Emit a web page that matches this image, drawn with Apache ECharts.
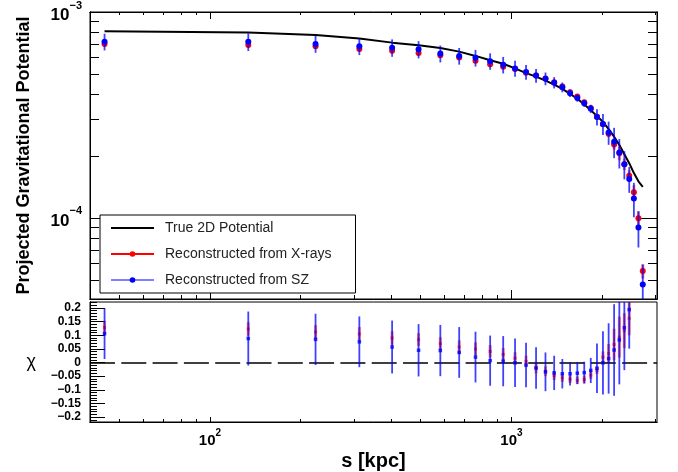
<!DOCTYPE html>
<html><head><meta charset="utf-8">
<script src="https://cdn.jsdelivr.net/npm/echarts@6/dist/echarts.min.js"></script>
<style>html,body{margin:0;padding:0;background:#fff}#c{width:678px;height:472px}</style>
</head><body><div id="c"></div>
<script>
// ---------- data ----------
const radii = [44.7, 134, 224, 313, 402, 492, 581, 671, 760, 850, 939, 1028, 1118, 1207, 1297, 1386, 1475, 1565, 1654, 1744, 1833, 1922, 2012, 2101, 2191, 2280, 2369, 2459, 2548, 2638, 2727];
const truePotential = [8.06e-4, 7.95e-4, 7.73e-4, 7.44e-4, 7.10e-4, 6.89e-4, 6.69e-4, 6.42e-4, 6.12e-4, 5.83e-4, 5.61e-4, 5.32e-4, 5.05e-4, 4.855e-4, 4.64e-4, 4.44e-4, 4.23e-4, 4.00e-4, 3.79e-4, 3.56e-4, 3.33e-4, 3.13e-4, 2.925e-4, 2.70e-4, 2.48e-4, 2.26e-4, 2.04e-4, 1.845e-4, 1.651e-4, 1.506e-4, 1.414e-4];
const xrayPotential = [6.99e-4, 6.92e-4, 6.81e-4, 6.615e-4, 6.49e-4, 6.33e-4, 6.165e-4, 6.01e-4, 5.79e-4, 5.58e-4, 5.42e-4, 5.28e-4, 5.075e-4, 4.91e-4, 4.76e-4, 4.555e-4, 4.345e-4, 4.08e-4, 3.89e-4, 3.65e-4, 3.42e-4, 3.10e-4, 2.853e-4, 2.563e-4, 2.276e-4, 2.06e-4, 1.824e-4, 1.604e-4, 1.334e-4, 9.97e-5, 5.52e-5];
const szPotential = [7.175e-4, 7.175e-4, 6.994e-4, 6.81e-4, 6.71e-4, 6.585e-4, 6.28e-4, 6.12e-4, 5.99e-4, 5.77e-4, 5.54e-4, 5.32e-4, 5.11e-4, 4.91e-4, 4.745e-4, 4.54e-4, 4.31e-4, 4.035e-4, 3.82e-4, 3.60e-4, 3.39e-4, 3.094e-4, 2.862e-4, 2.60e-4, 2.345e-4, 2.077e-4, 1.824e-4, 1.545e-4, 1.244e-4, 8.98e-5, 4.75e-5];
// fractional errors (same in both panels)
const xrayRelErr = [0.025, 0.025, 0.025, 0.025, 0.025, 0.024, 0.024, 0.024, 0.024, 0.023, 0.023, 0.022, 0.021, 0.020, 0.018, 0.016, 0.015, 0.014, 0.014, 0.014, 0.014, 0.013, 0.021, 0.035, 0.058, 0.075, 0.064, 0.062, 0.08, 0.08, 0.08];
const szRelErr = [0.093, 0.099, 0.094, 0.093, 0.097, 0.096, 0.094, 0.093, 0.093, 0.092, 0.092, 0.089, 0.082, 0.076, 0.071, 0.063, 0.054, 0.043, 0.040, 0.040, 0.046, 0.091, 0.116, 0.129, 0.168, 0.163, 0.156, 0.143, 0.19, 0.20, 0.25];
const xrayChi = [0.128, 0.123, 0.112, 0.105, 0.090, 0.084, 0.069, 0.057, 0.050, 0.041, 0.030, 0.016, 0.004, -0.020, -0.032, -0.048, -0.056, -0.061, -0.065, -0.062, -0.046, -0.029, 0.020, 0.033, 0.066, 0.093, 0.117, 0.162, 0.24, 0.36, 0.62];
const szChi = [0.106, 0.088, 0.085, 0.076, 0.057, 0.045, 0.044, 0.037, 0.020, 0.007, 0.005, -0.001, -0.009, -0.020, -0.034, -0.038, -0.041, -0.041, -0.039, -0.037, -0.029, -0.021, -0.001, 0.015, 0.046, 0.083, 0.128, 0.194, 0.27, 0.42, 0.68];
// ticks / labels
const sMajorTicks = [100, 1000];
const sMinorTicks = [50, 60, 70, 80, 90, 200, 300, 400, 500, 600, 700, 800, 900, 2000, 3000];
const potMajorTicks = [1e-4, 1e-3];
const potMinorTicks = [5e-5, 6e-5, 7e-5, 8e-5, 9e-5, 2e-4, 3e-4, 4e-4, 5e-4, 6e-4, 7e-4, 8e-4, 9e-4];
const chiMajorTicks = [-0.2, -0.15, -0.1, -0.05, 0, 0.05, 0.1, 0.15, 0.2];
const chiMinorTicks = [-0.21, -0.19, -0.18, -0.17, -0.16, -0.14, -0.13, -0.12, -0.11, -0.09, -0.08, -0.07, -0.06, -0.04, -0.03, -0.02, -0.01, 0.01, 0.02, 0.03, 0.04, 0.06, 0.07, 0.08, 0.09, 0.11, 0.12, 0.13, 0.14, 0.16, 0.17, 0.18, 0.19, 0.21, 0.22];
const legendNames = ['True 2D Potential', 'Reconstructed from X-rays', 'Reconstructed from SZ'];

// ---------- chart ----------
const FONT = "'Liberation Sans', Arial, Helvetica, sans-serif";
const S_MIN = 40, S_MAX = 3040, POT_MIN = 4.04e-5, POT_MAX = 1e-3, CHI_MIN = -0.218, CHI_MAX = 0.222;

function powLabel(v) {
  const e = Math.round(Math.log10(v));
  return '{b|10}{s|' + (e < 0 ? '\u2212' + (-e) : String(e)) + '}';
}
function tickAxis(base, pos, grid, ticks, len, extra) {
  return Object.assign({
    gridIndex: grid, position: pos, show: true,
    axisLine: { show: true, onZero: false, lineStyle: { color: '#000', width: 1 } },
    axisTick: { show: true, inside: true, length: len, customValues: ticks, lineStyle: { color: '#000', width: 1 } },
    axisLabel: { show: false },
    splitLine: { show: false }, minorTick: { show: false }
  }, base, extra || {});
}
const sBase = { type: 'log', min: S_MIN, max: S_MAX, logBase: 10 };
const potBase = { type: 'log', min: POT_MIN, max: POT_MAX, logBase: 10 };
const chiBase = { type: 'value', min: CHI_MIN, max: CHI_MAX };

const xAxes = [
  tickAxis(sBase, 'bottom', 0, sMajorTicks, 9),
  tickAxis(sBase, 'bottom', 0, sMinorTicks, 4),
  tickAxis(sBase, 'top', 0, sMajorTicks, 7),
  tickAxis(sBase, 'top', 0, sMinorTicks, 3),
  tickAxis(sBase, 'bottom', 1, sMajorTicks, 5, {
    axisLabel: {
      show: true, customValues: sMajorTicks, margin: 6, formatter: powLabel,
      rich: {
        b: { fontFamily: FONT, fontSize: 15, fontWeight: 'bold', color: '#000', lineHeight: 20, verticalAlign: 'bottom' },
        s: { fontFamily: FONT, fontSize: 10, fontWeight: 'bold', color: '#000', lineHeight: 20, verticalAlign: 'top' }
      }
    },
    name: 's [kpc]', nameLocation: 'middle', nameGap: 29,
    nameTextStyle: { fontFamily: FONT, fontSize: 20, fontWeight: 'bold', color: '#000' }
  }),
  tickAxis(sBase, 'bottom', 1, sMinorTicks, 3)
];
const yAxes = [
  tickAxis(potBase, 'left', 0, potMajorTicks, 18, {
    axisLabel: {
      show: true, customValues: potMajorTicks, margin: 8, formatter: powLabel,
      rich: {
        b: { fontFamily: FONT, fontSize: 17, fontWeight: 'bold', color: '#000', lineHeight: 24, verticalAlign: 'bottom' },
        s: { fontFamily: FONT, fontSize: 11, fontWeight: 'bold', color: '#000', lineHeight: 24, verticalAlign: 'top' }
      }
    },
    name: 'Projected Gravitational Potential', nameLocation: 'middle', nameGap: 57,
    nameTextStyle: { fontFamily: FONT, fontSize: 18, fontWeight: 'bold', color: '#000' }
  }),
  tickAxis(potBase, 'left', 0, potMinorTicks, 9),
  tickAxis(potBase, 'right', 0, potMajorTicks, 18),
  tickAxis(potBase, 'right', 0, potMinorTicks, 9),
  tickAxis(chiBase, 'left', 1, chiMajorTicks, 15, {
    axisLabel: {
      show: true, customValues: chiMajorTicks, margin: 9,
      formatter: v => (Math.abs(v) < 1e-9 ? '0' : (v < 0 ? '\u2212' : '') + String(+Math.abs(v).toFixed(2))),
      fontFamily: FONT, fontSize: 12, fontWeight: 'bold', color: '#000'
    },
    name: '\u03c7', nameLocation: 'middle', nameGap: 54, nameRotate: 0,
    nameTextStyle: { fontFamily: FONT, fontSize: 18, color: '#000' }
  }),
  tickAxis(chiBase, 'left', 1, chiMinorTicks, 7)
];

function errData(vals, rel) {
  return radii.map((s, i) => [s, vals[i] * (1 - rel[i]), vals[i] * (1 + rel[i]), vals[i]]);
}
function chiErrData(vals, rel) {
  return radii.map((s, i) => [s, vals[i] - rel[i], vals[i] + rel[i], vals[i]]);
}
function errSeries(data, xi, yi, color, width, z) {
  return {
    type: 'custom', xAxisIndex: xi, yAxisIndex: yi, data: data, z: z, silent: true,
    encode: { x: 0, y: [1, 2, 3] },
    renderItem: function (params, api) {
      const cs = params.coordSys;
      const x = api.value(0);
      const p = api.coord([x, api.value(3)]);
      if (p[1] < cs.y - 1 || p[1] > cs.y + cs.height + 1) return { type: 'group', children: [] };
      const top = cs.y, bot = cs.y + cs.height;
      let y1 = api.coord([x, api.value(2)])[1];
      let y2 = api.coord([x, api.value(1)])[1];
      y1 = Math.max(top, Math.min(bot, y1));
      y2 = Math.max(top, Math.min(bot, y2));
      return { type: 'line', shape: { x1: p[0], y1: y1, x2: p[0], y2: y2 }, style: { stroke: color, lineWidth: width } };
    }
  };
}
const zip = (a, b) => a.map((v, i) => [v, b[i]]);

const option = {
  animation: false,
  backgroundColor: '#fff',
  grid: [
    { left: 90, top: 9, width: 567, height: 290, show: true, borderColor: '#000', borderWidth: 1, backgroundColor: 'transparent' },
    { left: 90, top: 302, width: 567, height: 120, show: true, borderColor: '#000', borderWidth: 1, backgroundColor: 'transparent' }
  ],
  xAxis: xAxes,
  yAxis: yAxes,
  legend: {
    orient: 'vertical', left: 100, top: 215,
    data: [
      { name: legendNames[0], itemStyle: { opacity: 0 }, lineStyle: { opacity: 1, color: '#000', width: 2 } },
      { name: legendNames[1], lineStyle: { opacity: 1, color: '#ff0000', width: 2 }, itemStyle: { color: '#ff0000' } },
      { name: legendNames[2], lineStyle: { opacity: 1, color: '#8080ff', width: 2 }, itemStyle: { color: '#0000ff' } }
    ],
    itemWidth: 43, itemHeight: 7, itemGap: 12,
    padding: [6, 24, 6, 10],
    backgroundColor: '#fff', borderColor: '#000', borderWidth: 1, borderRadius: 0,
    textStyle: { fontFamily: FONT, fontSize: 14, color: '#222', padding: [0, 0, 0, 6] },
    selectedMode: false
  },
  series: [
    { type: 'line', name: legendNames[0], xAxisIndex: 0, yAxisIndex: 0, data: zip(radii, truePotential),
      symbol: 'none', lineStyle: { color: '#000', width: 2 }, itemStyle: { color: '#000' }, z: 2, silent: true },
    errSeries(errData(xrayPotential, xrayRelErr), 0, 0, 'rgba(255,0,0,0.5)', 3, 3),
    { type: 'line', name: legendNames[1], xAxisIndex: 0, yAxisIndex: 0, data: zip(radii, xrayPotential),
      symbol: 'circle', symbolSize: 6, showSymbol: true, showAllSymbol: true,
      itemStyle: { color: '#ff0000' }, lineStyle: { color: '#ff0000', width: 2, opacity: 0 }, z: 4, silent: true },
    errSeries(errData(szPotential, szRelErr), 0, 0, 'rgba(0,0,255,0.75)', 1.8, 5),
    { type: 'line', name: legendNames[2], xAxisIndex: 0, yAxisIndex: 0, data: zip(radii, szPotential),
      symbol: 'circle', symbolSize: 6, showSymbol: true, showAllSymbol: true,
      itemStyle: { color: '#0000ff' }, lineStyle: { color: '#8080ff', width: 2, opacity: 0 }, z: 6, silent: true },
    // chi panel
    errSeries(chiErrData(xrayChi, xrayRelErr), 4, 4, 'rgba(255,0,0,0.5)', 3, 3),
    { type: 'scatter', name: 'chiX', xAxisIndex: 4, yAxisIndex: 4, data: zip(radii, xrayChi),
      symbol: 'rect', symbolSize: 3, itemStyle: { color: '#ff2020' }, z: 4, silent: true, clip: true,
      markLine: { silent: true, symbol: 'none', label: { show: false },
        lineStyle: { color: '#000', width: 1.5, type: [25, 6.3] }, data: [{ yAxis: 0 }] } },
    errSeries(chiErrData(szChi, szRelErr), 4, 4, 'rgba(0,0,255,0.75)', 1.8, 5),
    { type: 'scatter', name: 'chiSZ', xAxisIndex: 4, yAxisIndex: 4, data: zip(radii, szChi),
      symbol: 'rect', symbolSize: 3.5, itemStyle: { color: '#0000ff' }, z: 6, silent: true, clip: true }
  ]
};
const chart = echarts.init(document.getElementById('c'), null, { renderer: 'canvas' });
chart.setOption(option);
</script>
</body></html>
